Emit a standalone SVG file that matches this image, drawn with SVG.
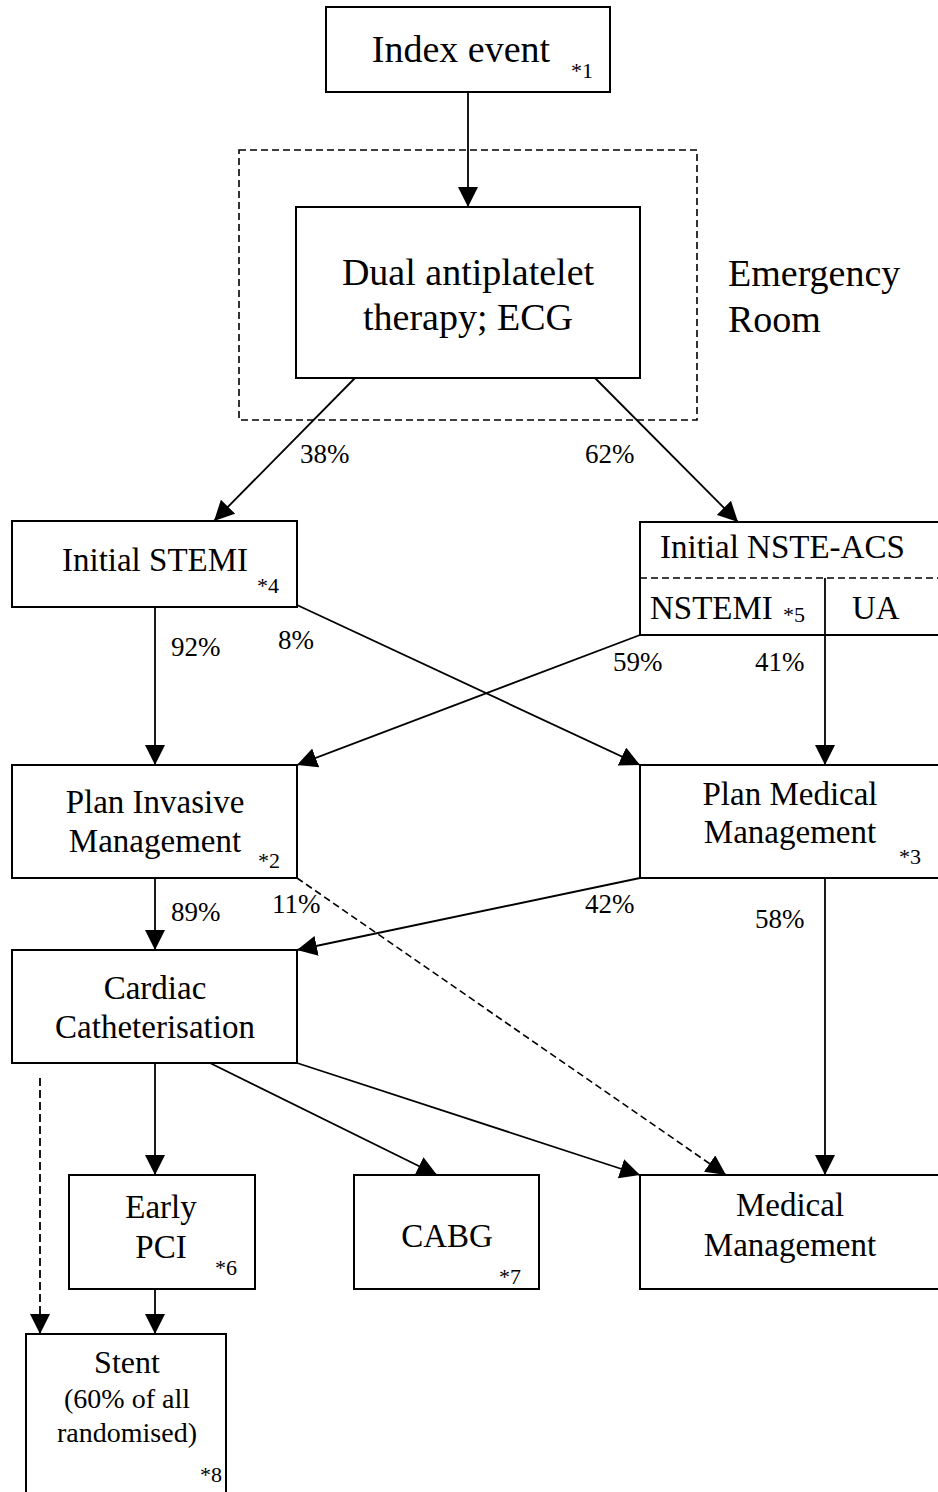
<svg xmlns="http://www.w3.org/2000/svg" width="938" height="1492" viewBox="0 0 938 1492">
<style>
text{font-family:"Liberation Serif","Times New Roman",serif;fill:#000}
.box{fill:#fff;stroke:#000;stroke-width:2}
.dbox{fill:none;stroke:#000;stroke-width:1.6;stroke-dasharray:7 4}
.t38{font-size:38px;text-anchor:middle}
.t33{font-size:33px;text-anchor:middle}
.t33s{font-size:33px}
.t28{font-size:28px;text-anchor:middle}
.pct{font-size:27px}
.ast{font-size:22px}
.ln{stroke:#000;stroke-width:1.8;fill:none}
.dl{stroke:#000;stroke-width:1.6;fill:none;stroke-dasharray:7 4}
.dv{stroke:#000;stroke-width:1.8;fill:none;stroke-dasharray:8 4}
</style>
<defs>
<marker id="ah" markerUnits="userSpaceOnUse" markerWidth="20" markerHeight="20" viewBox="0 0 18 18" refX="18" refY="9" orient="auto">
<path d="M0,0 L18,9 L0,18 z" fill="#000"/>
</marker>
</defs>

<g id="er-zone">
<rect class="dbox" x="239" y="150" width="458" height="270"/>
<text class="t38" x="728" y="286" style="text-anchor:start">Emergency</text>
<text class="t38" x="728" y="332" style="text-anchor:start">Room</text>
</g>

<g id="connectors">
<line class="ln" x1="468" y1="92" x2="468" y2="207" marker-end="url(#ah)"/>
<line class="ln" x1="355" y1="378" x2="214" y2="521" marker-end="url(#ah)"/>
<line class="ln" x1="595" y1="378" x2="738" y2="522" marker-end="url(#ah)"/>
<line class="ln" x1="155" y1="607" x2="155" y2="765" marker-end="url(#ah)"/>
<line class="ln" x1="297" y1="605" x2="640" y2="765" marker-end="url(#ah)"/>
<line class="ln" x1="640" y1="635" x2="297" y2="765" marker-end="url(#ah)"/>
<line class="ln" x1="825" y1="578" x2="825" y2="765" marker-end="url(#ah)"/>
<line class="ln" x1="155" y1="878" x2="155" y2="950" marker-end="url(#ah)"/>
<line class="dl" x1="297" y1="878" x2="726" y2="1175" marker-end="url(#ah)"/>
<line class="ln" x1="640" y1="878" x2="297" y2="950" marker-end="url(#ah)"/>
<line class="ln" x1="825" y1="878" x2="825" y2="1175" marker-end="url(#ah)"/>
<line class="ln" x1="155" y1="1063" x2="155" y2="1175" marker-end="url(#ah)"/>
<line class="ln" x1="210" y1="1063" x2="437" y2="1175" marker-end="url(#ah)"/>
<line class="ln" x1="297" y1="1063" x2="640" y2="1175" marker-end="url(#ah)"/>
<line class="dv" x1="40" y1="1078" x2="40" y2="1334" marker-end="url(#ah)"/>
<line class="ln" x1="155" y1="1290" x2="155" y2="1334" marker-end="url(#ah)"/>
<text class="pct" x="300" y="463">38%</text>
<text class="pct" x="585" y="463">62%</text>
<text class="pct" x="171" y="656">92%</text>
<text class="pct" x="278" y="649">8%</text>
<text class="pct" x="613" y="671">59%</text>
<text class="pct" x="755" y="671">41%</text>
<text class="pct" x="171" y="921">89%</text>
<text class="pct" x="272" y="913">11%</text>
<text class="pct" x="585" y="913">42%</text>
<text class="pct" x="755" y="928">58%</text>
</g>

<g id="index-event">
<rect class="box" x="326" y="7" width="284" height="85"/>
<text class="t38" x="461" y="62">Index event</text>
<text class="ast" x="571" y="78">*1</text>
</g>

<g id="dual-antiplatelet">
<rect class="box" x="296" y="207" width="344" height="171"/>
<text class="t38" x="468" y="285">Dual antiplatelet</text>
<text class="t38" x="468" y="330">therapy; ECG</text>
</g>

<g id="initial-stemi">
<rect class="box" x="12" y="521" width="285" height="86"/>
<text class="t33" x="155" y="571">Initial STEMI</text>
<text class="ast" x="257" y="593">*4</text>
</g>

<g id="initial-nste-acs">
<rect class="box" x="640" y="522" width="310" height="113"/>
<line class="dl" x1="640" y1="578" x2="938" y2="578"/>
<line class="ln" x1="825" y1="578" x2="825" y2="635"/>
<text class="t33s" x="660" y="558">Initial NSTE-ACS</text>
<text class="t33s" x="650" y="619">NSTEMI</text>
<text class="ast" x="783" y="622">*5</text>
<text class="t33s" x="852" y="619">UA</text>
</g>

<g id="plan-invasive">
<rect class="box" x="12" y="765" width="285" height="113"/>
<text class="t33" x="155" y="813">Plan Invasive</text>
<text class="t33" x="155" y="852">Management</text>
<text class="ast" x="258" y="868">*2</text>
</g>

<g id="plan-medical">
<rect class="box" x="640" y="765" width="310" height="113"/>
<text class="t33" x="790" y="805">Plan Medical</text>
<text class="t33" x="790" y="843">Management</text>
<text class="ast" x="899" y="864">*3</text>
</g>

<g id="cardiac-cath">
<rect class="box" x="12" y="950" width="285" height="113"/>
<text class="t33" x="155" y="999">Cardiac</text>
<text class="t33" x="155" y="1038">Catheterisation</text>
</g>

<g id="early-pci">
<rect class="box" x="69" y="1175" width="186" height="114"/>
<text class="t33" x="161" y="1218">Early</text>
<text class="t33" x="161" y="1258">PCI</text>
<text class="ast" x="215" y="1275">*6</text>
</g>

<g id="cabg">
<rect class="box" x="354" y="1175" width="185" height="114"/>
<text class="t33" x="447" y="1247">CABG</text>
<text class="ast" x="499" y="1284">*7</text>
</g>

<g id="medical-management">
<rect class="box" x="640" y="1175" width="310" height="114"/>
<text class="t33" x="790" y="1216">Medical</text>
<text class="t33" x="790" y="1256">Management</text>
</g>

<g id="stent">
<rect class="box" x="26" y="1334" width="200" height="170"/>
<text class="t33" x="127" y="1373" style="font-size:32px">Stent</text>
<text class="t28" x="127" y="1408">(60% of all</text>
<text class="t28" x="127" y="1442">randomised)</text>
<text class="ast" x="200" y="1482">*8</text>
</g>
</svg>
